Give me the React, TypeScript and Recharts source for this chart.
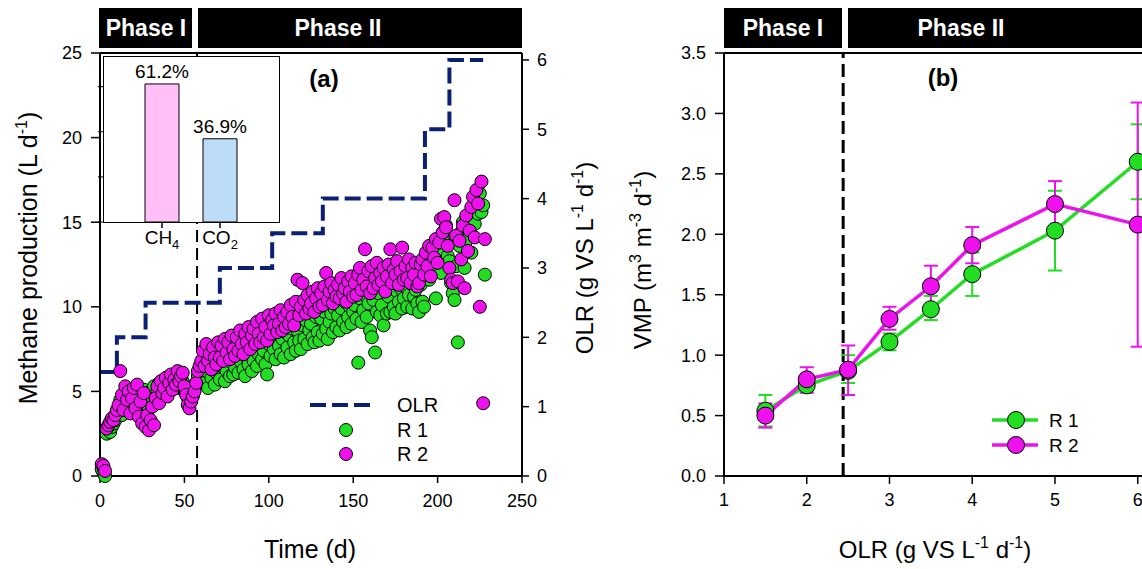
import React from 'react';
import {
  ComposedChart, LineChart, BarChart, Bar, Line, Scatter, XAxis, YAxis,
  ReferenceLine, ErrorBar, LabelList, Cell,
} from 'recharts';

const FONT = '"Liberation Sans", Arial, sans-serif';
const GREEN = '#22dd22';
const MAGENTA = '#ee11ee';
const NAVY = '#0b1f75';

// ---------- Panel (a) data ----------
const days = [
  1, 2, 3, 4, 5, 6, 7, 8, 9, 10,
  11, 12, 13, 14, 15, 16, 17, 18, 19, 20,
  21, 22, 23, 24, 25, 26, 27, 28, 29, 30,
  31, 32, 33, 34, 35, 36, 37, 38, 39, 40,
  41, 42, 43, 44, 45, 46, 47, 48, 49, 50,
  51, 52, 53, 54, 55, 56, 57, 58, 59, 60,
  61, 62, 63, 64, 65, 66, 67, 68, 69, 70,
  71, 72, 73, 74, 75, 76, 77, 78, 79, 80,
  81, 82, 83, 84, 85, 86, 87, 88, 89, 90,
  91, 92, 93, 94, 95, 96, 97, 98, 99, 100,
  101, 102, 103, 104, 105, 106, 107, 108, 109, 110,
  111, 112, 113, 114, 115, 116, 117, 118, 119, 120,
  121, 122, 123, 124, 125, 126, 127, 128, 129, 130,
  131, 132, 133, 134, 135, 136, 137, 138, 139, 140,
  141, 142, 143, 144, 145, 146, 147, 148, 149, 150,
  151, 152, 153, 154, 155, 156, 157, 158, 159, 160,
  161, 162, 163, 164, 165, 166, 167, 168, 169, 170,
  171, 172, 173, 174, 175, 176, 177, 178, 179, 180,
  181, 182, 183, 184, 185, 186, 187, 188, 189, 190,
  191, 192, 193, 194, 195, 196, 197, 198, 199, 200,
  201, 202, 203, 204, 205, 206, 207, 208, 209, 210,
  211, 212, 213, 214, 215, 216, 217, 218, 219, 220,
  221, 222, 223, 224, 225, 226, 227, 228,
];

const r1Methane = [
  0.4, 0.2, 0.0, 2.5, 2.7, 2.6, 2.9, 3.1, 3.3, 3.6,
  3.9, 4.5, 3.6, 4.8, 4.2, 5.0, 4.4, 3.9, 4.7, 4.3,
  4.9, 4.1, 4.6, 3.8, 4.4, 5.1, 4.3, 4.8, 4.0, 5.0,
  4.6, 5.3, 4.5, 5.0, 5.5, 4.8, 5.2, 5.7, 4.9, 5.4,
  5.8, 5.1, 5.5, 5.9, 5.3, 5.7, 5.2, 6.0, 5.6, 5.0,
  4.9, 4.6, 4.3, 4.5, 4.8, 5.2, 5.5, 5.9, 6.1, 5.8,
  6.6, 5.5, 6.2, 5.2, 6.9, 5.8, 6.4, 5.4, 6.1, 6.8,
  5.7, 6.5, 6.9, 5.6, 6.2, 7.1, 5.9, 6.7, 6.0, 6.4,
  7.3, 6.1, 6.8, 7.5, 6.3, 5.9, 7.0, 6.6, 7.6, 6.2,
  6.8, 7.7, 6.5, 7.2, 8.0, 6.9, 7.4, 6.6, 6.0, 7.8,
  7.1, 8.2, 7.5, 6.9, 8.4, 7.7, 7.2, 8.1, 7.0, 8.5,
  7.6, 8.3, 7.2, 8.7, 7.9, 7.4, 8.6, 8.0, 7.5, 8.9,
  8.1, 9.2, 7.8, 8.6, 9.0, 8.2, 7.9, 9.4, 8.5, 8.0,
  9.3, 8.4, 9.7, 8.7, 8.1, 9.1, 9.6, 8.5, 9.9, 8.8,
  9.5, 8.6, 9.9, 9.1, 10.3, 8.8, 9.4, 10.0, 9.0, 9.7,
  10.1, 9.3, 6.7, 10.5, 9.1, 9.8, 10.7, 9.4, 10.2, 8.6,
  8.2, 10.4, 7.3, 9.7, 10.8, 9.5, 10.1, 8.9, 11.0, 9.6,
  10.6, 9.7, 11.3, 10.0, 9.6, 10.9, 10.3, 11.1, 9.9, 10.5,
  11.2, 10.0, 10.7, 11.5, 9.9, 10.6, 11.0, 10.2, 9.7, 11.3,
  10.3, 10.0, 11.8, 12.5, 11.6, 12.9, 13.2, 12.2, 10.5, 12.6,
  13.4, 12.0, 14.2, 13.8, 14.8, 13.0, 12.7, 11.4, 10.8, 10.4,
  12.4, 7.9, 13.6, 14.4, 15.0, 12.3, 13.9, 14.6, 15.4, 13.2,
  15.8, 14.9, 16.2, 15.5, 16.7, 15.6, 16.0, 11.9,
];

const r2Methane = [
  0.7, 0.6, 0.3, 2.8, 3.0, 3.2, 3.4, 3.3, 3.6, 3.9,
  4.2, 6.2, 4.8, 3.9, 5.3, 4.5, 5.0, 3.7, 4.6, 5.2,
  4.0, 5.4, 3.5, 4.4, 3.1, 4.9, 2.9, 3.6, 2.7, 3.3,
  4.1, 3.0, 4.6, 5.3, 4.3, 5.6, 4.9, 5.2, 5.8, 4.7,
  5.5, 6.0, 5.1, 5.7, 5.4, 6.2, 5.6, 5.9, 6.1, 5.3,
  4.8, 4.2, 4.0, 4.4, 4.7, 5.0, 5.5, 6.2, 6.5, 6.8,
  7.4, 6.5, 7.8, 6.8, 7.2, 6.3, 7.6, 7.0, 6.6, 7.9,
  7.0, 7.7, 6.8, 8.1, 7.3, 7.9, 6.9, 8.3, 7.5, 7.1,
  8.2, 7.4, 8.6, 7.8, 7.2, 8.4, 7.9, 8.8, 7.5, 8.3,
  8.7, 7.8, 9.1, 8.4, 7.9, 9.3, 8.2, 8.8, 8.0, 9.5,
  8.4, 9.2, 8.9, 9.6, 8.5, 9.0, 9.8, 8.6, 9.4, 8.8,
  9.7, 9.0, 10.1, 9.4, 8.9, 10.3, 11.6, 9.5, 10.0, 11.4,
  10.4, 9.6, 10.7, 9.9, 10.2, 10.9, 9.7, 10.5, 11.1, 10.0,
  10.8, 10.1, 11.2, 12.0, 10.4, 10.9, 11.4, 10.2, 11.0, 10.6,
  11.3, 10.5, 11.7, 10.8, 11.1, 10.3, 11.5, 10.9, 11.8, 10.6,
  11.4, 10.7, 11.9, 12.3, 11.0, 11.6, 13.4, 11.2, 12.1, 10.8,
  12.4, 11.1, 11.7, 12.6, 11.3, 12.0, 11.5, 12.3, 10.9, 11.8,
  12.5, 13.4, 11.4, 12.2, 11.9, 12.7, 11.3, 12.1, 13.5, 11.6,
  12.4, 11.7, 12.8, 11.4, 12.3, 11.9, 12.6, 11.2, 11.4, 12.5,
  12.8, 11.9, 13.2, 12.4, 13.6, 11.8, 13.5, 12.9, 14.0, 12.6,
  13.8, 15.2, 14.4, 15.3, 14.7, 13.6, 12.3, 11.6, 11.4, 16.3,
  14.2, 11.5, 13.9, 12.8, 14.8, 11.1, 15.4, 13.3, 14.5, 15.9,
  16.5, 14.1, 16.9, 16.1, 10.0, 17.4, 4.3, 14.0,
];

const olrDays = [0, 10, 27, 71, 102, 132, 192.5, 207, 227];
const olrSteps = [1.5, 2, 2.5, 3, 3.5, 4, 5, 6, 6];
const phaseChangeDay = 57.5;

const timeTicks = [0, 50, 100, 150, 200, 250];
const methaneTicks = [0, 5, 10, 15, 20, 25];
const olrRightTicks = [0, 1, 2, 3, 4, 5, 6];

// Inset
const gasLabels = ['CH4', 'CO2'];
const gasShares = [61.2, 36.9];
const gasColors = ['#ffbff7', '#bddcf7'];
const insetTicks = [0, 20, 40, 60];

// ---------- Panel (b) data ----------
const olrLevels = [1.5, 2, 2.5, 3, 3.5, 4, 5, 6];
const vmpR1 = [0.54, 0.75, 0.87, 1.11, 1.38, 1.67, 2.03, 2.6];
const vmpR1ErrLow = [0.13, 0.06, 0.1, 0.07, 0.09, 0.18, 0.33, 0.31];
const vmpR1ErrHigh = [0.13, 0.06, 0.13, 0.07, 0.11, 0.18, 0.33, 0.31];
const vmpR2 = [0.5, 0.8, 0.88, 1.3, 1.57, 1.91, 2.25, 2.08];
const vmpR2ErrLow = [0.1, 0.11, 0.21, 0.09, 0.17, 0.15, 0.21, 1.01];
const vmpR2ErrHigh = [0.1, 0.1, 0.2, 0.1, 0.17, 0.15, 0.19, 1.01];
const phaseChangeOlr = 2.44;
const olrAxisTicks = [1, 2, 3, 4, 5, 6];
const vmpTicks = [0, 0.5, 1, 1.5, 2, 2.5, 3, 3.5];

// ---------- derived tables ----------
const r1Data = days.map((t, i) => ({ t, v: r1Methane[i] }));
const r2Data = days.map((t, i) => ({ t, v: r2Methane[i] }));
const olrData = olrDays.map((t, i) => ({ t, olr: olrSteps[i] }));
const gasData = gasLabels.map((name, i) => ({ name, share: gasShares[i] }));
const vmpData = olrLevels.map((olr, i) => ({
  olr,
  r1: vmpR1[i],
  r1Err: [vmpR1ErrLow[i], vmpR1ErrHigh[i]],
  r2: vmpR2[i],
  r2Err: [vmpR2ErrLow[i], vmpR2ErrHigh[i]],
}));

const tickStyle = { fill: '#000', fontSize: 18, fontFamily: FONT };
const axisLineStyle = { stroke: '#000', strokeWidth: 2 };
const tickLineStyle = { stroke: '#000', strokeWidth: 1.5 };

const makeDot = (fill: string) => (p: any) => (
  <circle cx={p.cx} cy={p.cy} r={6.5} fill={fill} stroke="#000" strokeWidth={1} />
);

const GasTick = (props: any) => {
  const { x, y, payload } = props;
  const label: string = payload.value;
  return (
    <text x={x} y={y} dy="0.71em" textAnchor="middle" fontSize={19} fontFamily={FONT} fill="#000">
      {label.slice(0, 2)}
      <tspan dy={5} fontSize={13}>{label.slice(2)}</tspan>
    </text>
  );
};

const fmtVmp = (v: number) => v.toFixed(1);

export default function App() {
  return (
    <div style={{ position: 'absolute', left: 0, top: 0, width: 1142, height: 569, overflow: 'hidden', background: '#fff', fontFamily: FONT }}>
      {/* Panel (a) */}
      <div style={{ position: 'absolute', left: 0, top: 0 }}>
        <ComposedChart width={600} height={569} margin={{ top: 53, right: 18, bottom: 53, left: 40 }}>
          <XAxis
            type="number" dataKey="t" domain={[0, 250]} ticks={timeTicks}
            tick={tickStyle} axisLine={axisLineStyle} tickLine={tickLineStyle}
            tickSize={7} tickMargin={11} height={40} allowDecimals={false}
          />
          <YAxis
            yAxisId="left" type="number" dataKey="v" domain={[0, 25]} ticks={methaneTicks}
            tick={tickStyle} axisLine={axisLineStyle} tickLine={tickLineStyle}
            tickSize={9} tickMargin={9} width={60}
          />
          <YAxis
            yAxisId="right" orientation="right" type="number" domain={[0, 6.1]} ticks={olrRightTicks}
            tick={tickStyle} axisLine={axisLineStyle} tickLine={tickLineStyle}
            tickSize={7} tickMargin={8} width={60}
          />
          <ReferenceLine yAxisId="left" y={25} stroke="#000" strokeWidth={2} />
          <ReferenceLine yAxisId="left" x={phaseChangeDay} stroke="#000" strokeWidth={2} strokeDasharray="12 6" />
          <Line
            yAxisId="right" data={olrData} dataKey="olr" type="stepAfter"
            stroke={NAVY} strokeWidth={4} strokeDasharray="16 6" dot={false}
            isAnimationActive={false}
          />
          <Scatter yAxisId="left" data={r1Data} dataKey="v" fill={GREEN} shape={makeDot(GREEN)} isAnimationActive={false} />
          <Scatter yAxisId="left" data={r2Data} dataKey="v" fill={MAGENTA} shape={makeDot(MAGENTA)} isAnimationActive={false} />
        </ComposedChart>
      </div>

      {/* Inset */}
      <div style={{ position: 'absolute', left: 103, top: 56, width: 177, height: 167, border: '1px solid #000', boxSizing: 'border-box', background: '#fff' }} />
      <div style={{ position: 'absolute', left: 83, top: 50 }}>
        <BarChart width={201} height={212} data={gasData} margin={{ top: 6, right: 5, bottom: 0, left: 0 }}>
          <XAxis
            dataKey="name" padding={{ left: 30, right: 30 }} axisLine={false}
            tickLine={tickLineStyle} tickSize={6} tickMargin={3} height={40}
            tick={<GasTick />} interval={0}
          />
          <YAxis
            type="number" domain={[0, 73.6]} ticks={insetTicks} width={20}
            axisLine={false} tickLine={{ stroke: '#000', strokeWidth: 1 }} tickSize={5}
            tickFormatter={() => ''}
          />
          <Bar dataKey="share" barSize={34} stroke="#000" strokeWidth={1} isAnimationActive={false}>
            {gasData.map((d, i) => (
              <Cell key={d.name} fill={gasColors[i]} />
            ))}
            <LabelList
              dataKey="share" position="top" offset={6}
              formatter={(v: any) => `${Number(v).toFixed(1)}%`}
              style={{ fill: '#000', fontSize: 19, fontFamily: FONT }}
            />
          </Bar>
        </BarChart>
      </div>

      {/* Panel (b) */}
      <div style={{ position: 'absolute', left: 600, top: 0 }}>
        <LineChart width={560} height={569} data={vmpData} margin={{ top: 53, right: 14, bottom: 53, left: 60 }}>
          <XAxis
            type="number" dataKey="olr" domain={[1, 6.1]} ticks={olrAxisTicks}
            tick={tickStyle} axisLine={axisLineStyle} tickLine={tickLineStyle}
            tickSize={8} tickMargin={9} height={40}
          />
          <YAxis
            type="number" domain={[0, 3.5]} ticks={vmpTicks} tickFormatter={fmtVmp}
            tick={tickStyle} axisLine={axisLineStyle} tickLine={tickLineStyle}
            tickSize={9} tickMargin={9} width={64}
          />
          <ReferenceLine y={3.5} stroke="#000" strokeWidth={2} />
          <ReferenceLine x={phaseChangeOlr} stroke="#000" strokeWidth={3} strokeDasharray="13 6" />
          <Line
            dataKey="r1" stroke={GREEN} strokeWidth={3.5}
            dot={{ r: 8.5, fill: GREEN, stroke: '#000', strokeWidth: 1 }}
            isAnimationActive={false}
          >
            <ErrorBar dataKey="r1Err" direction="y" width={7} stroke={GREEN} strokeWidth={2} />
          </Line>
          <Line
            dataKey="r2" stroke={MAGENTA} strokeWidth={3.5}
            dot={{ r: 8.5, fill: MAGENTA, stroke: '#000', strokeWidth: 1 }}
            isAnimationActive={false}
          >
            <ErrorBar dataKey="r2Err" direction="y" width={7} stroke={MAGENTA} strokeWidth={2} />
          </Line>
        </LineChart>
      </div>

      {/* Annotations, titles, legends */}
      <svg width={1142} height={569} style={{ position: 'absolute', left: 0, top: 0, pointerEvents: 'none' }} fontFamily={FONT}>
        {/* phase banners (a) */}
        <rect x={99} y={8} width={93} height={40} fill="#000" />
        <rect x={198} y={8} width={324} height={40} fill="#000" />
        <text x={146} y={28} dominantBaseline="central" textAnchor="middle" fill="#fff" fontWeight="bold" fontSize={23}>Phase I</text>
        <text x={338} y={28} dominantBaseline="central" textAnchor="middle" fill="#fff" fontWeight="bold" fontSize={23}>Phase II</text>
        {/* phase banners (b) */}
        <rect x={724} y={8} width={118} height={40} fill="#000" />
        <rect x={848} y={8} width={300} height={40} fill="#000" />
        <text x={783} y={28} dominantBaseline="central" textAnchor="middle" fill="#fff" fontWeight="bold" fontSize={23}>Phase I</text>
        <text x={961} y={28} dominantBaseline="central" textAnchor="middle" fill="#fff" fontWeight="bold" fontSize={23}>Phase II</text>

        <text x={324} y={78} dominantBaseline="central" textAnchor="middle" fontWeight="bold" fontSize={24}>(a)</text>
        <text x={943} y={77} dominantBaseline="central" textAnchor="middle" fontWeight="bold" fontSize={24}>(b)</text>

        {/* legend (a) */}
        <line x1={310} x2={372} y1={405} y2={405} stroke={NAVY} strokeWidth={4} strokeDasharray="16 6" />
        <text x={397} y={405} dominantBaseline="central" fontSize={20}>OLR</text>
        <circle cx={346} cy={430} r={6.5} fill={GREEN} stroke="#000" strokeWidth={1} />
        <text x={397} y={430} dominantBaseline="central" fontSize={20}>R 1</text>
        <circle cx={346} cy={454} r={6.5} fill={MAGENTA} stroke="#000" strokeWidth={1} />
        <text x={397} y={454} dominantBaseline="central" fontSize={20}>R 2</text>

        {/* legend (b) */}
        <line x1={992} x2={1038} y1={420} y2={420} stroke={GREEN} strokeWidth={3.5} />
        <circle cx={1016} cy={420} r={8.5} fill={GREEN} stroke="#000" strokeWidth={1} />
        <text x={1049} y={420} dominantBaseline="central" fontSize={19}>R 1</text>
        <line x1={992} x2={1038} y1={445} y2={445} stroke={MAGENTA} strokeWidth={3.5} />
        <circle cx={1016} cy={445} r={8.5} fill={MAGENTA} stroke="#000" strokeWidth={1} />
        <text x={1049} y={445} dominantBaseline="central" fontSize={19}>R 2</text>

        {/* axis titles (a) */}
        <text x={310} y={558} textAnchor="middle" fontSize={25}>Time (d)</text>
        <text transform="translate(37,258) rotate(-90)" textAnchor="middle" fontSize={25}>
          Methane production (L d<tspan dy={-10} fontSize={16}>-1</tspan><tspan dy={10}>)</tspan>
        </text>
        <text transform="translate(593,258) rotate(-90)" textAnchor="middle" fontSize={24}>
          OLR (g VS L<tspan dy={-10} fontSize={16}>-1</tspan><tspan dy={10}> d</tspan><tspan dy={-10} fontSize={16}>-1</tspan><tspan dy={10}>)</tspan>
        </text>

        {/* axis titles (b) */}
        <text x={935} y={558} textAnchor="middle" fontSize={24}>
          OLR (g VS L<tspan dy={-10} fontSize={16}>-1</tspan><tspan dy={10}> d</tspan><tspan dy={-10} fontSize={16}>-1</tspan><tspan dy={10}>)</tspan>
        </text>
        <text transform="translate(651,260) rotate(-90)" textAnchor="middle" fontSize={24}>
          VMP (m<tspan dy={-10} fontSize={16}>3</tspan><tspan dy={10}> m</tspan><tspan dy={-10} fontSize={16}>-3</tspan><tspan dy={10}> d</tspan><tspan dy={-10} fontSize={16}>-1</tspan><tspan dy={10}>)</tspan>
        </text>
      </svg>
    </div>
  );
}
